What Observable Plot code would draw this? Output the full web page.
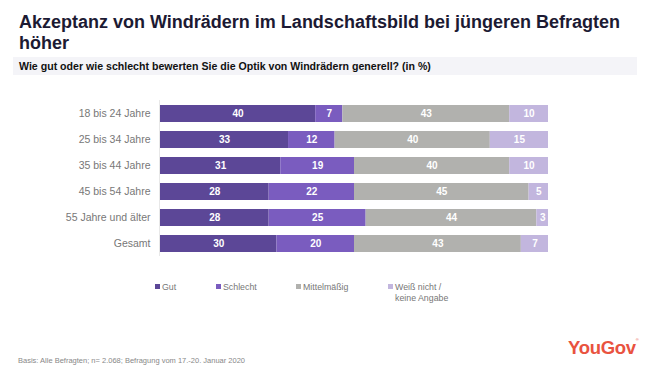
<!DOCTYPE html>
<html><head><meta charset="utf-8">
<script src="https://cdn.jsdelivr.net/npm/d3@7"></script>
<script src="https://cdn.jsdelivr.net/npm/@observablehq/plot@0.6"></script>
<style>
body{margin:0;background:#fff;font-family:"Liberation Sans",Arial,sans-serif;}
#wrap{position:relative;width:656px;height:375px;overflow:hidden;}
#title{position:absolute;left:19px;top:12px;font-size:18px;font-weight:bold;color:#1c1a33;line-height:21px;width:630px;white-space:nowrap;}
#sub{position:absolute;left:13px;top:57px;width:624px;height:18px;background:#f4f4f8;}
#sub span{position:absolute;left:6px;top:3px;font-size:10.6px;font-weight:bold;color:#111;}
#chart{position:absolute;left:0;top:95px;}
.leg{position:absolute;top:282px;font-size:8.8px;color:#777;line-height:11px;}
.leg i{display:inline-block;width:5px;height:5px;margin-right:2px;vertical-align:1px;}
#foot{position:absolute;left:18px;top:356px;font-size:7.5px;color:#888;}
#logo{position:absolute;left:568px;top:337px;font-size:18.5px;font-weight:bold;color:#e9533f;letter-spacing:-0.3px;}
#logo sup{font-size:4px;vertical-align:top;font-weight:normal;}
</style></head>
<body><div id="wrap">
<div id="title">Akzeptanz von Windrädern im Landschaftsbild bei jüngeren Befragten<br>höher</div>
<div id="sub"><span>Wie gut oder wie schlecht bewerten Sie die Optik von Windrädern generell? (in %)</span></div>
<div id="chart"></div>
<div id="legend"></div>
<div id="foot">Basis: Alle Befragten; n= 2.068; Befragung vom 17.-20. Januar 2020</div>
<div id="logo">YouGov<sup>®</sup></div>
</div>
<script>
const groups = ["18 bis 24 Jahre","25 bis 34 Jahre","35 bis 44 Jahre","45 bis 54 Jahre","55 Jahre und älter","Gesamt"];
const categories = ["Gut","Schlecht","Mittelmäßig","Weiß nicht / keine Angabe"];
const legendLabels = ["Gut","Schlecht","Mittelmäßig","Weiß nicht /<br>keine Angabe"];
const colors = ["#5c4797","#7a5cbf","#b1b1ae","#c2b6de"];
const gut = [40,33,31,28,28,30];
const schlecht = [7,12,19,22,25,20];
const mittel = [43,40,40,45,44,43];
const weissNicht = [10,15,10,5,3,7];

const series = [gut, schlecht, mittel, weissNicht];
const data = [];
groups.forEach((g, i) => categories.forEach((c, j) => data.push({group: g, cat: c, value: series[j][i]})));

const stackOpts = {x: "value", y: "group", z: "cat", order: categories};
const plot = Plot.plot({
  width: 656, height: 166,
  marginLeft: 160, marginRight: 108, marginTop: 5, marginBottom: 5,
  style: {fontFamily: "'Liberation Sans', Arial, sans-serif", background: "transparent"},
  x: {domain: [0, 100], axis: null},
  y: {domain: groups, paddingInner: 0.35, paddingOuter: 0.175, label: null, tickSize: 0, tickPadding: 10},
  color: {domain: categories, range: colors},
  marks: [
    Plot.ruleX([0], {stroke: "#e8e8e8", strokeWidth: 1, dx: -1}),
    Plot.barX(data, Plot.stackX({...stackOpts, fill: "cat"})),
    Plot.text(data, Plot.stackX({...stackOpts, text: d => String(d.value), fill: "white", fontWeight: "bold", fontSize: 10})),
    Plot.axisY({tickSize: 0, tickPadding: 10, fontSize: 10.5, color: "#777", label: null})
  ]
});
document.getElementById("chart").appendChild(plot);

const legX = [155, 216, 296, 388];
const leg = document.getElementById("legend");
categories.forEach((c, j) => {
  const d = document.createElement("div");
  d.className = "leg";
  d.style.left = legX[j] + "px";
  d.innerHTML = `<i style="background:${colors[j]}"></i>` + legendLabels[j].replace("<br>", "<br><span style='padding-left:7px'></span>");
  leg.appendChild(d);
});
</script>
</body></html>
